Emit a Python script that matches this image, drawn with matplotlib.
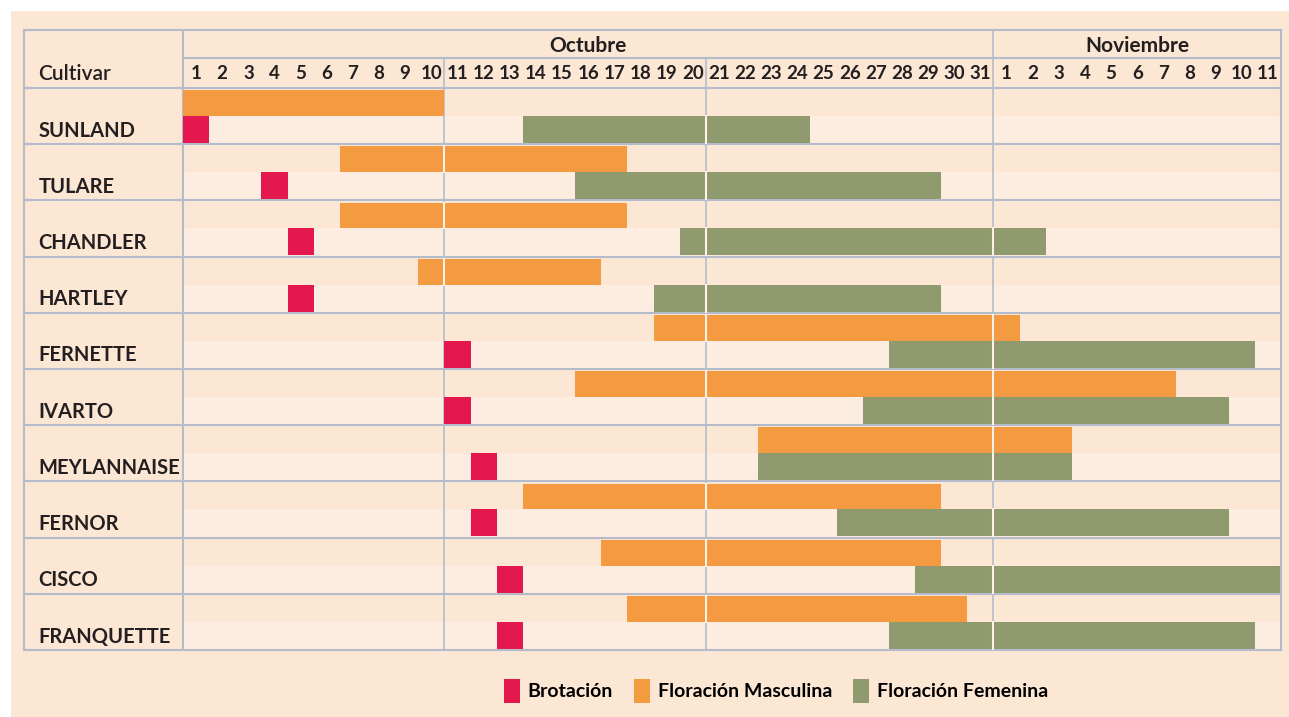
import matplotlib.pyplot as plt
from matplotlib.patches import Patch, Rectangle

# Cultivars, top to bottom
cultivars = ["SUNLAND", "TULARE", "CHANDLER", "HARTLEY", "FERNETTE",
             "IVARTO", "MEYLANNAISE", "FERNOR", "CISCO", "FRANQUETTE"]

# days counted on one timeline: 1..31 = October, 32..42 = November 1..11
brotacion = [1, 4, 5, 5, 11, 11, 12, 12, 13, 13]
masc_start = [1, 7, 7, 10, 19, 16, 23, 14, 17, 18]
masc_end = [10, 17, 17, 16, 32, 38, 34, 29, 29, 30]
fem_start = [14, 16, 20, 19, 28, 27, 23, 26, 29, 28]
fem_end = [24, 29, 33, 29, 41, 40, 34, 40, 42, 41]

day_labels = [str(d) for d in range(1, 32)] + [str(d) for d in range(1, 12)]
months = ["Octubre", "Noviembre"]
month_days = [31, 11]

BG = "#fce6d4"
LANE = "#fdece0"
GRID = "#b4bccb"
LIGHT = "#fdf1e8"
RED = "#e5174f"
ORANGE = "#f49a40"
GREEN = "#8f9a6f"
INK = "#231f20"

FONT = ["Lato", "DejaVu Sans"]
plt.rcParams["font.family"] = FONT

fig = plt.figure(figsize=(12.89, 7.17), dpi=100, facecolor="white")
fig.patches.append(Rectangle((11 / 1289, 0), 1, 1 - 11 / 717, transform=fig.transFigure,
                             facecolor=BG, edgecolor="none", zorder=-10))

n_days = len(day_labels)
label_w = 6.08
head_top = -1.03
head_mid = -0.534
n = len(cultivars)

ax = fig.add_axes([24 / 1289, 1 - 650 / 717, 1257 / 1289, 620 / 717])
ax.set_facecolor(BG)
ax.set_xlim(-label_w, n_days)
ax.set_ylim(n, head_top)
ax.set_xticks([])
ax.set_yticks([])
for s in ax.spines.values():
    s.set_color(GRID)
    s.set_linewidth(1.5)

# slightly lighter lower lane in each row
for i in range(n):
    ax.add_patch(Rectangle((0, i + 0.5), n_days, 0.5, facecolor=LANE, edgecolor="none", zorder=0))

# grid
for i in range(n):
    ax.plot([-label_w, n_days], [i, i], color=GRID, lw=1.5, zorder=1)
ax.plot([0, n_days], [head_mid, head_mid], color=GRID, lw=1.5, zorder=1)
ax.plot([0, 0], [head_top, n], color=GRID, lw=1.5, zorder=1)
ax.plot([10, 10], [head_mid, n], color=GRID, lw=1.2, zorder=1)
ax.plot([20, 20], [head_mid, n], color=GRID, lw=1.2, zorder=1)
ax.plot([31, 31], [head_top, n], color=GRID, lw=1.2, zorder=1)

# bars
y = list(range(n))
ax.barh([v + 0.04 for v in y], [e - s + 1 for s, e in zip(masc_start, masc_end)],
        left=[s - 1 for s in masc_start], height=0.46, align="edge", color=ORANGE, zorder=2)
ax.barh([v + 0.5 for v in y], [e - s + 1 for s, e in zip(fem_start, fem_end)],
        left=[s - 1 for s in fem_start], height=0.48, align="edge", color=GREEN, zorder=2)
ax.barh([v + 0.5 for v in y], 1, left=[b - 1 for b in brotacion], height=0.48,
        align="edge", color=RED, zorder=2)

# light separators where bars cross the 10/20/31 lines
for b in [10, 20, 31]:
    for i in range(n):
        if masc_start[i] - 1 < b < masc_end[i]:
            ax.plot([b, b], [i + 0.04, i + 0.5], color=LIGHT, lw=1.5, zorder=3)
        if fem_start[i] - 1 < b < fem_end[i]:
            ax.plot([b, b], [i + 0.5, i + 0.98], color=LIGHT, lw=1.5, zorder=3)

# header
for k, lab in enumerate(day_labels):
    ax.text(k + 0.5, -0.25, lab, ha="center", va="center", fontsize=13.5,
            color=INK, fontweight="bold")
start = 0
for m, d in zip(months, month_days):
    ax.text(start + d / 2, -0.75, m, ha="center", va="center", fontsize=15,
            color=INK, fontweight="bold")
    start += d
ax.text(-label_w + 0.55, -0.24, "Cultivar", ha="left", va="center", fontsize=15,
        color=INK, fontweight="semibold")

for i, c in enumerate(cultivars):
    ax.text(-label_w + 0.55, i + 0.76, c, ha="left", va="center", fontsize=14.5,
            color=INK, fontweight="bold")

handles = [Patch(facecolor=RED, label="Brotación"),
           Patch(facecolor=ORANGE, label="Floración Masculina"),
           Patch(facecolor=GREEN, label="Floración Femenina")]
fig.legend(handles=handles, loc="center", bbox_to_anchor=(776 / 1289, 1 - 691 / 717),
           ncol=3, frameon=False, handlelength=0.8, handleheight=1.5,
           handletextpad=0.4, columnspacing=1.1,
           prop={"family": FONT, "size": 14, "weight": "bold"})

fig.savefig("out.png", dpi=100, facecolor=fig.get_facecolor())
